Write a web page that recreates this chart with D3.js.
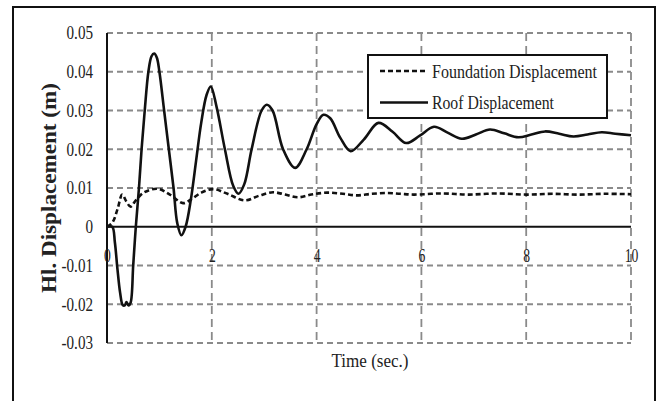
<!DOCTYPE html>
<html>
<head>
<meta charset="utf-8">
<script src="https://cdn.jsdelivr.net/npm/d3@7"></script>
<style>
  html, body { margin: 0; padding: 0; background: #fff; }
  svg { display: block; font-family: 'Liberation Serif', 'Times New Roman', serif; }
</style>
</head>
<body>
<svg class="disp-chart" width="661" height="401"></svg>
<script>
// time (s) and displacement (m)
const roofTime = [0, 0.1, 0.15, 0.2, 0.25, 0.3, 0.34, 0.37, 0.41, 0.45, 0.5, 0.55, 0.61, 0.66, 0.72, 0.79, 0.85, 0.9, 0.95, 1.0,
  1.09, 1.18, 1.27, 1.34, 1.42, 1.5, 1.6, 1.7, 1.8, 1.9, 1.98, 2.09, 2.25, 2.41, 2.51, 2.62, 2.76, 2.95, 3.05, 3.16,
  3.36, 3.59, 3.81, 4.0, 4.13, 4.26, 4.45, 4.65, 4.9, 5.18, 5.45, 5.71, 5.97, 6.24, 6.5, 6.77, 7.04, 7.31, 7.58, 7.85,
  8.1, 8.36, 8.63, 8.9, 9.17, 9.44, 9.7, 10];
const roofDisp = [0, 0, -0.004, -0.011, -0.017, -0.0202, -0.0203, -0.0194, -0.0203, -0.0196, -0.010, 0, 0.010, 0.020, 0.030, 0.040, 0.0440, 0.0447, 0.0437, 0.040,
  0.030, 0.020, 0.010, 0.001, -0.0022, 0.000, 0.007, 0.017, 0.027, 0.034, 0.0362, 0.031, 0.020, 0.0105, 0.0085, 0.011, 0.020, 0.030, 0.0315, 0.030,
  0.020, 0.0152, 0.020, 0.0265, 0.0289, 0.028, 0.023, 0.0195, 0.0225, 0.0268, 0.0245, 0.0216, 0.0235, 0.0258, 0.0243, 0.0227, 0.0238, 0.0251, 0.0241, 0.0231,
  0.0238, 0.0246, 0.0240, 0.0233, 0.0238, 0.0244, 0.0240, 0.0236];

const foundTime = [0, 0.1, 0.2, 0.29, 0.37, 0.45, 0.55, 0.7, 0.96, 1.2, 1.45, 1.6, 1.8, 2.03, 2.3, 2.63, 2.9, 3.17, 3.4, 3.65,
  3.9, 4.2, 4.5, 4.77, 5.05, 5.34, 5.6, 5.85, 6.4, 6.9, 7.45, 8, 8.5, 9, 9.5, 10];
const foundDisp = [0, 0.001, 0.0045, 0.0083, 0.0065, 0.0052, 0.0068, 0.0088, 0.0098, 0.0083, 0.0061, 0.0070, 0.0088, 0.0097, 0.0085, 0.0068, 0.0080, 0.0089, 0.0083, 0.0076,
  0.0083, 0.0088, 0.0085, 0.0081, 0.0085, 0.0087, 0.0085, 0.0083, 0.0086, 0.0083, 0.0086, 0.0083, 0.0085, 0.0083, 0.0085, 0.0084];

const xTicks = [0, 2, 4, 6, 8, 10];
const yTicks = [-0.03, -0.02, -0.01, 0, 0.01, 0.02, 0.03, 0.04, 0.05];
const legendLabels = ['Foundation Displacement', 'Roof Displacement'];

const svg = d3.select('.disp-chart');

const xScale = d3.scaleLinear().domain([0, 10]).range([107, 631]);
const yScale = d3.scaleLinear().domain([-0.03, 0.05]).range([343, 33]);

// outer frame
svg.append('rect')
  .attr('x', 13)
  .attr('y', 7)
  .attr('width', 642)
  .attr('height', 420)
  .attr('fill', '#fff')
  .attr('stroke', '#111')
  .attr('stroke-width', 2);

/*
 ** Grid
 */
const gridGroup = svg.append('g').attr('class', 'grid');

gridGroup.selectAll('line.h-grid')
  .data(yTicks.filter(d => d !== 0))
  .enter()
  .append('line')
  .attr('class', 'h-grid')
  .attr('x1', xScale(0))
  .attr('x2', xScale(10))
  .attr('y1', d => yScale(d))
  .attr('y2', d => yScale(d))
  .attr('stroke', '#8a8a8a')
  .attr('stroke-width', 1.8)
  .attr('stroke-dasharray', '6,4');

gridGroup.selectAll('line.v-grid')
  .data(xTicks.filter(d => d !== 0))
  .enter()
  .append('line')
  .attr('class', 'v-grid')
  .attr('x1', d => xScale(d))
  .attr('x2', d => xScale(d))
  .attr('y1', yScale(0.05))
  .attr('y2', yScale(-0.03))
  .attr('stroke', '#8a8a8a')
  .attr('stroke-width', 1.8)
  .attr('stroke-dasharray', '8,5');

// left axis line and zero line
svg.append('line')
  .attr('x1', xScale(0))
  .attr('x2', xScale(0))
  .attr('y1', yScale(0.05))
  .attr('y2', yScale(-0.03))
  .attr('stroke', '#111')
  .attr('stroke-width', 2);

svg.append('line')
  .attr('x1', xScale(0))
  .attr('x2', xScale(10))
  .attr('y1', yScale(0))
  .attr('y2', yScale(0))
  .attr('stroke', '#111')
  .attr('stroke-width', 2);

/*
 ** Axes (labels only)
 */
const yAxis = svg.append('g')
  .attr('transform', `translate(${xScale(0) - 14}, 0)`)
  .call(d3.axisLeft(yScale).tickValues(yTicks).tickSize(0).tickPadding(0)
    .tickFormat(d => d === 0 ? '0' : d.toFixed(2)));
yAxis.select('.domain').remove();
yAxis.selectAll('text')
  .attr('font-family', 'Liberation Serif')
  .attr('font-size', 18)
  .attr('fill', '#222')
  .attr('transform', 'scale(0.84,1)');

const xAxis = svg.append('g')
  .attr('transform', `translate(0, ${yScale(0)})`)
  .call(d3.axisBottom(xScale).tickValues(xTicks).tickSize(0).tickPadding(0)
    .tickFormat(d => d));
xAxis.select('.domain').remove();
xAxis.selectAll('text')
  .attr('font-family', 'Liberation Serif')
  .attr('font-size', 19)
  .attr('fill', '#222')
  .attr('dy', null)
  .attr('y', 35)
  .attr('transform', 'scale(0.72,1)');

/*
 ** Lines
 */
const line = d3.line()
  .x(d => xScale(d[0]))
  .y(d => yScale(d[1]))
  .curve(d3.curveCatmullRom.alpha(0.5));

svg.append('path')
  .datum(foundTime.map((t, i) => [t, foundDisp[i]]))
  .attr('fill', 'none')
  .attr('stroke', '#111')
  .attr('stroke-width', 2.6)
  .attr('stroke-dasharray', '5,3')
  .attr('d', line);

svg.append('path')
  .datum(roofTime.map((t, i) => [t, roofDisp[i]]))
  .attr('fill', 'none')
  .attr('stroke', '#111')
  .attr('stroke-width', 2.6)
  .attr('stroke-linejoin', 'round')
  .attr('d', line);

/*
 ** Legend
 */
const legend = svg.append('g').attr('class', 'legend');

legend.append('rect')
  .attr('x', 368)
  .attr('y', 55)
  .attr('width', 239)
  .attr('height', 63)
  .attr('fill', '#fff')
  .attr('stroke', '#111')
  .attr('stroke-width', 2);

const legendItem = legend.selectAll('g.legend-item')
  .data(legendLabels)
  .enter()
  .append('g')
  .attr('class', 'legend-item')
  .attr('transform', (d, i) => `translate(380, ${71 + i * 31.5})`);

legendItem.append('line')
  .attr('x2', 48)
  .attr('stroke', '#111')
  .attr('stroke-width', 2.6)
  .attr('stroke-dasharray', (d, i) => i === 0 ? '5,3' : null);

legendItem.append('text')
  .text(d => d)
  .attr('x', 52)
  .attr('y', 6.5)
  .attr('font-size', 19)
  .attr('fill', '#222')
  .attr('textLength', (d, i) => i === 0 ? 165 : 122)
  .attr('lengthAdjust', 'spacingAndGlyphs');

/*
 ** Titles
 */
svg.append('text')
  .text('Time (sec.)')
  .attr('x', 370)
  .attr('y', 367)
  .attr('text-anchor', 'middle')
  .attr('font-size', 19)
  .attr('fill', '#222')
  .attr('textLength', 77)
  .attr('lengthAdjust', 'spacingAndGlyphs');

svg.append('text')
  .text('Hl. Displacement  (m)')
  .attr('transform', 'translate(56, 188) rotate(-90)')
  .attr('text-anchor', 'middle')
  .attr('font-size', 20)
  .attr('font-weight', 'bold')
  .attr('fill', '#222')
  .attr('textLength', 210)
  .attr('lengthAdjust', 'spacingAndGlyphs');
</script>
</body>
</html>
